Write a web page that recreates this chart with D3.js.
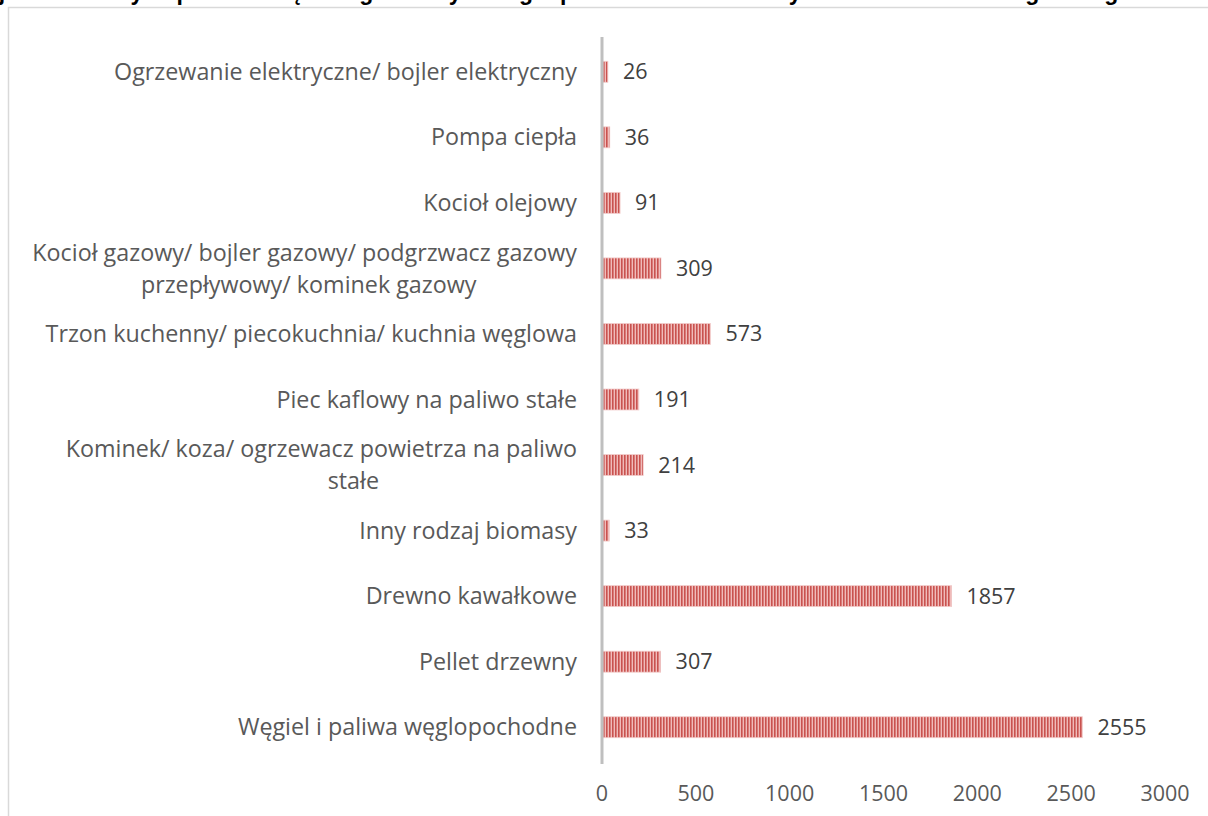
<!DOCTYPE html>
<html>
<head>
<meta charset="utf-8">
<script src="https://cdn.jsdelivr.net/npm/d3@7"></script>
<style>
  body { margin: 0; background: #fff; }
  svg { display: block; font-family: "Open Sans", sans-serif; }
</style>
</head>
<body>
<svg id="chart"></svg>
<script>
const width = 1208;
const height = 816;

// data, top to bottom as drawn
const categories = [
  "Ogrzewanie elektryczne/ bojler elektryczny",
  "Pompa ciepła",
  "Kocioł olejowy",
  "Kocioł gazowy/ bojler gazowy/ podgrzwacz gazowy\nprzepływowy/ kominek gazowy",
  "Trzon kuchenny/ piecokuchnia/ kuchnia węglowa",
  "Piec kaflowy na paliwo stałe",
  "Kominek/ koza/ ogrzewacz powietrza na paliwo\nstałe",
  "Inny rodzaj biomasy",
  "Drewno kawałkowe",
  "Pellet drzewny",
  "Węgiel i paliwa węglopochodne"
];
const values = [26, 36, 91, 309, 573, 191, 214, 33, 1857, 307, 2555];
const xTicks = [0, 500, 1000, 1500, 2000, 2500, 3000];
const title = "Rodzaje stosowanych paliw i urządzeń grzewczych w gospodarstwach domowych – liczba wskazań głównego źródła ciepła";

const margin = {left: 602, right: 43, top: 37, bottom: 56};

const svg = d3.select("#chart")
  .attr("width", width)
  .attr("height", height);

// title, cut off by the top edge as in the source
svg.append("text")
  .attr("x", width / 2)
  .attr("y", -0.5)
  .attr("text-anchor", "middle")
  .style("font-family", "'Liberation Sans', sans-serif")
  .style("font-weight", "bold")
  .style("font-size", "23px")
  .attr("fill", "#000")
  .text(title);

// chart frame
svg.append("rect")
  .attr("x", 8.5)
  .attr("y", 7.5)
  .attr("width", width + 20)
  .attr("height", height + 20)
  .attr("fill", "none")
  .attr("stroke", "#d9d9d9")
  .attr("stroke-width", 1.5);

const x = d3.scaleLinear()
  .domain([0, 3000])
  .range([margin.left, width - margin.right]);

const y = d3.scaleBand()
  .domain(categories)
  .range([margin.top + 2, height - margin.bottom])
  .paddingInner(0.68)
  .paddingOuter(0.34);

// striped fill
const defs = svg.append("defs");
const pat = defs.append("pattern")
  .attr("id", "stripes")
  .attr("patternUnits", "userSpaceOnUse")
  .attr("width", 3)
  .attr("height", 10);
pat.append("rect").attr("width", 3).attr("height", 10).attr("fill", "#f0bbba");
pat.append("rect").attr("width", 1.6).attr("height", 10).attr("fill", "#c9524f");

svg.append("g")
  .selectAll("rect")
  .data(values)
  .join("rect")
  .attr("x", x(0) + 1)
  .attr("y", (d, i) => y(categories[i]))
  .attr("width", d => x(d) - x(0))
  .attr("height", y.bandwidth())
  .attr("fill", "url(#stripes)")
  .attr("stroke", "#f2cccb")
  .attr("stroke-width", 0.8);

// vertical axis line
svg.append("line")
  .attr("x1", x(0)).attr("x2", x(0))
  .attr("y1", margin.top).attr("y2", height - margin.bottom + 4)
  .attr("stroke", "#bfbfbf")
  .attr("stroke-width", 3);

// value labels
svg.append("g")
  .selectAll("text")
  .data(values)
  .join("text")
  .attr("x", d => x(d) + 16)
  .attr("y", (d, i) => y(categories[i]) + y.bandwidth() / 2)
  .attr("dy", "0.35em")
  .attr("fill", "#404040")
  .style("font-size", "21.5px")
  .text(d => d);

// category labels (wrapped ones are centred, second line nudged like Excel does)
const labelRight = 577;
const wrapNudge = {3: 4, 6: 32};
const catG = svg.append("g");
categories.forEach((c, i) => {
  const lines = c.split("\n");
  const cy = y(c) + y.bandwidth() / 2;
  const lh = 32;
  const t = catG.append("text")
    .attr("fill", "#595959")
    .style("font-size", "23.3px");
  const first = t.append("tspan").text(lines[0]);
  const w1 = first.node().getComputedTextLength();
  if (lines.length === 1) {
    t.attr("text-anchor", "end");
    first.attr("x", labelRight).attr("y", cy).attr("dy", "0.35em");
  } else {
    const cx = labelRight - w1 / 2;
    t.attr("text-anchor", "middle");
    first.attr("x", cx).attr("y", cy - lh / 2).attr("dy", "0.35em");
    lines.slice(1).forEach((l, k) => {
      t.append("tspan")
        .attr("x", cx + (wrapNudge[i] || 0))
        .attr("y", cy - lh / 2 + lh * (k + 1))
        .attr("dy", "0.35em")
        .text(l);
    });
  }
});

// x axis tick labels
svg.append("g")
  .selectAll("text")
  .data(xTicks)
  .join("text")
  .attr("x", d => x(d))
  .attr("y", 793)
  .attr("dy", "0.35em")
  .attr("text-anchor", "middle")
  .attr("fill", "#595959")
  .style("font-size", "21.5px")
  .text(d => d);
</script>
</body>
</html>
